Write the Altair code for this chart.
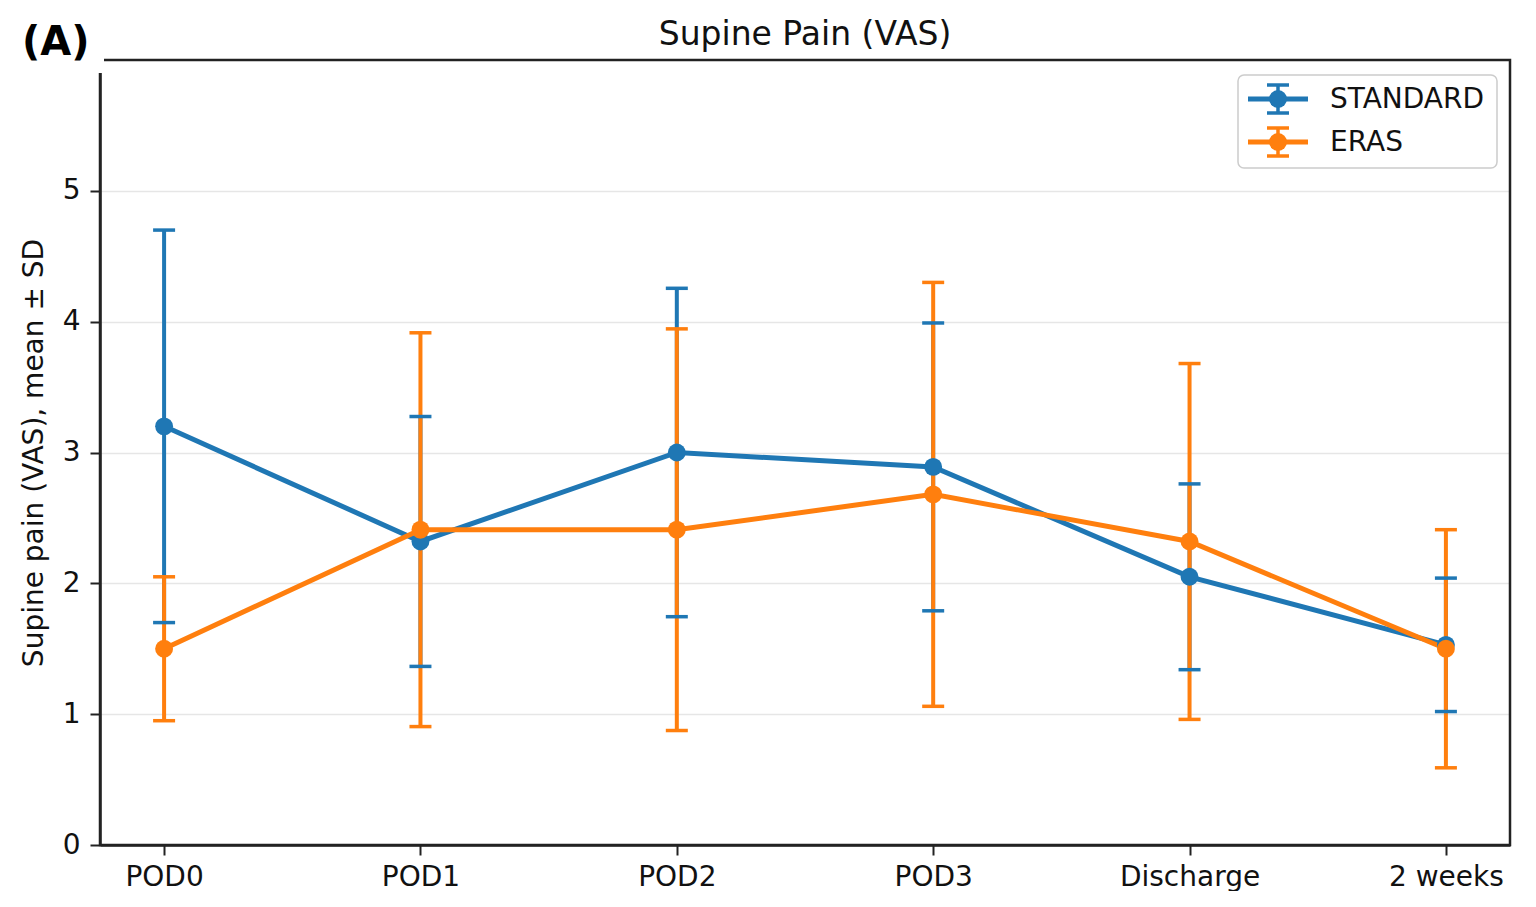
import altair as alt
import pandas as pd

timepoints = ["POD0", "POD1", "POD2", "POD3", "Discharge", "2 weeks"]
groups = ["STANDARD", "ERAS"]
standard_mean = [3.20, 2.32, 3.00, 2.89, 2.05, 1.53]
standard_sd = [1.50, 0.955, 1.255, 1.10, 0.71, 0.51]
eras_mean = [1.50, 2.41, 2.41, 2.68, 2.32, 1.50]
eras_sd = [0.55, 1.505, 1.535, 1.62, 1.36, 0.91]
colors = ["#1f77b4", "#ff7f0e"]
panel_label = ["(A)"]
chart_title = ["Supine Pain (VAS)"]
y_title = "Supine pain (VAS), mean ± SD"

rows = []
for g, means, sds in [("STANDARD", standard_mean, standard_sd), ("ERAS", eras_mean, eras_sd)]:
    for t, m, s in zip(timepoints, means, sds):
        rows.append({"time": t, "group": g, "mean": m, "lo": m - s, "hi": m + s})
df = pd.DataFrame(rows)

FONT = "DejaVu Sans"
W, H = 1410, 785
FRAME = "#222222"

x_enc = alt.X("time:N", sort=timepoints, scale=alt.Scale(type="point", padding=0.25),
              axis=alt.Axis(title=None, labelAngle=0, tickSize=10, tickWidth=2, tickColor=FRAME,
                            labelPadding=8, labelFontSize=28, labelFont=FONT, labelColor="#111",
                            domainColor=FRAME, domainWidth=2.5, grid=False))
y_scale = alt.Scale(domain=[0, 6.0], nice=False)
y_axis = alt.Axis(title=y_title, values=[0, 1, 2, 3, 4, 5], format="d",
                  tickSize=10, tickWidth=2, tickColor=FRAME, labelPadding=10,
                  labelFontSize=28, labelFont=FONT, labelColor="#111",
                  titleFontSize=28, titleFont=FONT, titleFontWeight="normal", titleColor="#111",
                  titlePadding=14, domainColor=FRAME, domainWidth=2.5,
                  grid=True, gridColor="#e6e6e6", gridWidth=1.5)

color_scale = alt.Scale(domain=groups, range=colors)

base = alt.Chart(df)

bars = base.mark_rule(strokeWidth=4).encode(
    x=x_enc,
    y=alt.Y("lo:Q", scale=y_scale, axis=y_axis),
    y2="hi:Q",
    color=alt.Color("group:N", scale=color_scale, legend=None),
)
caps_lo = base.mark_tick(size=22, thickness=3.5, opacity=1).encode(
    x=x_enc, y=alt.Y("lo:Q", scale=y_scale),
    color=alt.Color("group:N", scale=color_scale, legend=None),
)
caps_hi = base.mark_tick(size=22, thickness=3.5, opacity=1).encode(
    x=x_enc, y=alt.Y("hi:Q", scale=y_scale),
    color=alt.Color("group:N", scale=color_scale, legend=None),
)
lines = base.mark_line(strokeWidth=5).encode(
    x=x_enc, y=alt.Y("mean:Q", scale=y_scale),
    color=alt.Color("group:N", scale=color_scale, legend=None),
    detail="group:N",
)
points = base.mark_circle(opacity=1, size=320).encode(
    x=x_enc, y=alt.Y("mean:Q", scale=y_scale),
    color=alt.Color("group:N", scale=color_scale, legend=None),
)

lab_df = pd.DataFrame({"label": panel_label})
frame = alt.Chart(lab_df).mark_rect(fill=None, fillOpacity=0, stroke=FRAME, strokeWidth=2.5).encode(
    x=alt.value(0), x2=alt.value(W), y=alt.value(0), y2=alt.value(H)
)
corner = alt.Chart(lab_df).mark_rect(color="white").encode(
    x=alt.value(-100), x2=alt.value(4), y=alt.value(-60), y2=alt.value(13)
)
panel = alt.Chart(lab_df).mark_text(font=FONT, fontWeight="bold", fontSize=40, align="left",
                                    baseline="alphabetic", color="black").encode(
    text="label:N", x=alt.value(-78), y=alt.value(-5)
)
title_df = pd.DataFrame({"title": chart_title})
title = alt.Chart(title_df).mark_text(font=FONT, fontSize=33, align="center",
                                      baseline="alphabetic", color="#111").encode(
    text="title:N", x=alt.value(W / 2), y=alt.value(-15)
)

# legend (box + one glyph row per group)
leg_df = pd.DataFrame({"label": ["legend"]})
legend_layers = [
    alt.Chart(leg_df).mark_rect(fill="white", stroke="#cccccc", strokeWidth=1.5, cornerRadius=6).encode(
        x=alt.value(1138), x2=alt.value(1397), y=alt.value(15), y2=alt.value(108)
    )
]
for i, (g, c) in enumerate(zip(groups, colors)):
    gdf = pd.DataFrame({"group": [g]})
    cy = 39 + 43 * i
    cx = 1178
    gc = alt.Chart(gdf)
    legend_layers += [
        gc.mark_rule(strokeWidth=5, color=c).encode(
            x=alt.value(cx - 30), x2=alt.value(cx + 30), y=alt.value(cy)),
        gc.mark_rule(strokeWidth=3.5, color=c).encode(
            x=alt.value(cx), y=alt.value(cy - 14), y2=alt.value(cy + 14)),
        gc.mark_rule(strokeWidth=3.5, color=c).encode(
            x=alt.value(cx - 11), x2=alt.value(cx + 11), y=alt.value(cy - 14)),
        gc.mark_rule(strokeWidth=3.5, color=c).encode(
            x=alt.value(cx - 11), x2=alt.value(cx + 11), y=alt.value(cy + 14)),
        gc.mark_circle(size=320, opacity=1, color=c).encode(
            x=alt.value(cx), y=alt.value(cy)),
        gc.mark_text(font=FONT, fontSize=28, align="left", baseline="middle", color="#111").encode(
            text="group:N", x=alt.value(1230), y=alt.value(cy + 1)),
    ]

chart = alt.layer(bars, caps_lo, caps_hi, lines, points, frame, corner, panel, title,
                  *legend_layers).properties(
    width=W, height=H,
    background="white",
    autosize=alt.AutoSizeParams(type="none"),
    padding={"left": 92, "top": 52, "right": 14, "bottom": 46},
).configure_view(stroke=None, strokeWidth=0)

chart.save("out.html", embed_options={"renderer": "svg", "actions": False})
